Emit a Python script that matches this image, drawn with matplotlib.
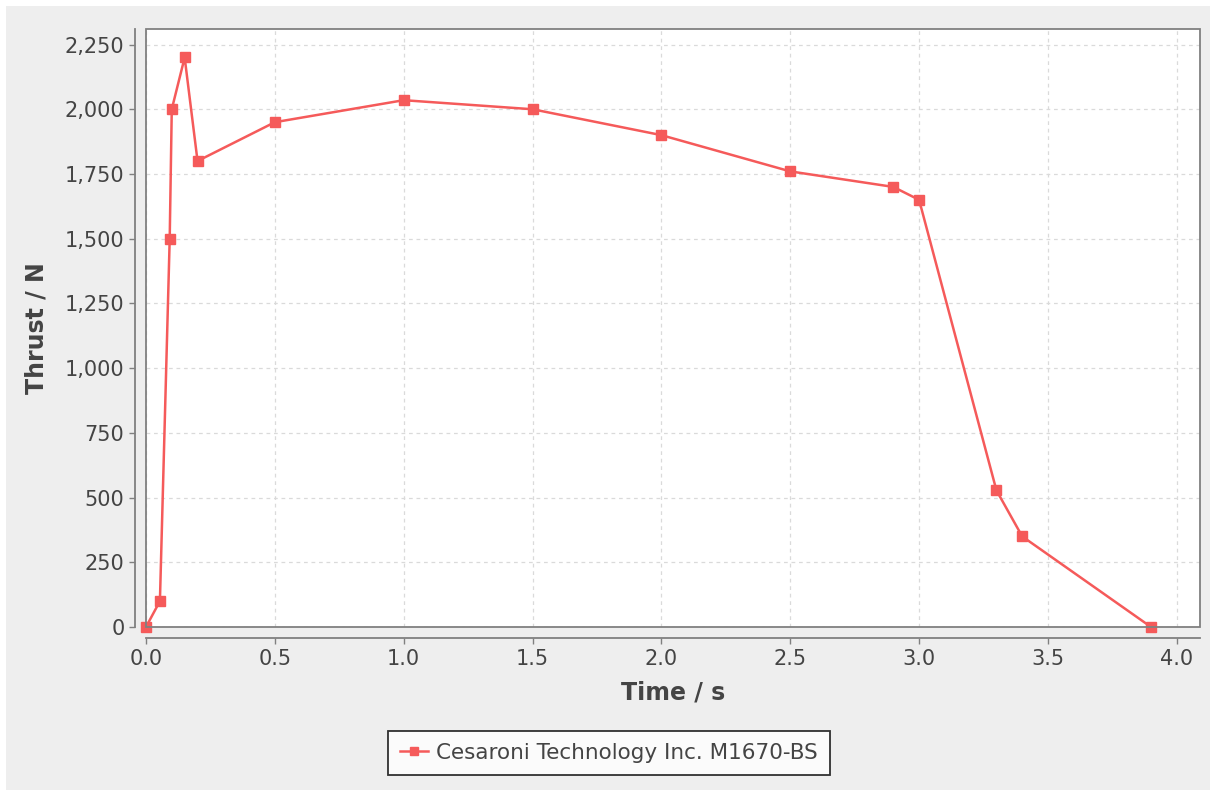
import matplotlib
matplotlib.use('Agg')
from matplotlib import pyplot as plt
from matplotlib.patches import Rectangle
from matplotlib.ticker import FuncFormatter, MultipleLocator

time_s = [0.0, 0.054, 0.092, 0.1, 0.15, 0.2, 0.5, 1.0, 1.5, 2.0, 2.5, 2.9, 3.0, 3.3, 3.4, 3.9]
thrust_n = [0, 100, 1500, 2000, 2200, 1800, 1950, 2035, 2000, 1900, 1760, 1700, 1650, 528, 350, 0]
motor_name = 'Cesaroni Technology Inc. M1670-BS'

red = '#f55a5a'
axis_grey = '#808080'
text_grey = '#444444'

fig = plt.figure(figsize=(12.16, 7.96), dpi=100, facecolor='white')
# grey panel behind everything, thin white frame around it
fig.patches.append(Rectangle((6 / 1216, 6 / 796), 1 - 12 / 1216, 1 - 12 / 796,
                             transform=fig.transFigure, facecolor='#eeeeee',
                             edgecolor='none', zorder=-10))

ax = fig.add_axes([146 / 1216, 1 - 627 / 796, (1200 - 146) / 1216, (627 - 29) / 796])
ax.set_facecolor('white')

ax.plot(time_s, thrust_n, color=red, lw=1.8, marker='s', ms=7.5,
        markerfacecolor=red, markeredgecolor=red, label=motor_name, clip_on=False, zorder=3)

ax.set_xlim(0, 4.09)
ax.set_ylim(0, 2310)
ax.xaxis.set_major_locator(MultipleLocator(0.5))
ax.yaxis.set_major_locator(MultipleLocator(250))
ax.xaxis.set_major_formatter(FuncFormatter(lambda v, p: f'{v:.1f}'))
ax.yaxis.set_major_formatter(FuncFormatter(lambda v, p: f'{v:,.0f}'))

ax.grid(True, color='#dadada', ls=(0, (3, 3)), lw=0.9)
ax.set_axisbelow(True)

# plot border
ax.add_patch(Rectangle((0, 0), 1, 1, transform=ax.transAxes, fill=False,
                       edgecolor=axis_grey, lw=1.3, clip_on=False, zorder=4))

ax.spines['top'].set_visible(False)
ax.spines['right'].set_visible(False)
for side in ('left', 'bottom'):
    ax.spines[side].set_position(('outward', 8))
    ax.spines[side].set_color(axis_grey)
    ax.spines[side].set_linewidth(1.3)

ax.tick_params(colors=axis_grey, labelcolor=text_grey, labelsize=15, length=4, width=1)
ax.tick_params(axis='x', pad=4)

ax.set_xlabel('Time / s', fontsize=17, fontweight='bold', color=text_grey, labelpad=8)
ax.set_ylabel('Thrust / N', fontsize=17, fontweight='bold', color=text_grey, labelpad=12)

leg = ax.legend(loc='center', bbox_to_anchor=(609 / 1216, 1 - 753 / 796),
                bbox_transform=fig.transFigure, fontsize=15.5, frameon=True,
                fancybox=False, handlelength=1.3, handletextpad=0.4,
                borderpad=0.55, borderaxespad=0, markerscale=0.8)
leg.get_frame().set_edgecolor('black')
leg.get_frame().set_linewidth(1.3)
for t in leg.get_texts():
    t.set_color(text_grey)

plt.savefig('out.png', dpi=100, facecolor=fig.get_facecolor())
